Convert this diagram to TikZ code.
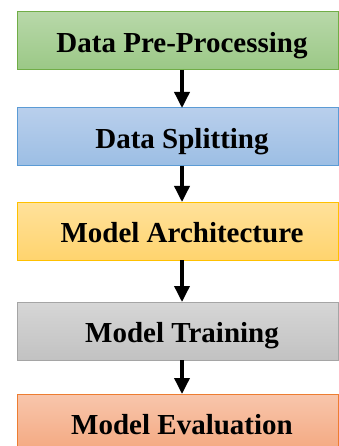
\documentclass[tikz,border=0pt]{standalone}
\usepackage{fontspec}
\setmainfont{Liberation Serif}
\usepackage{tikz}
\usetikzlibrary{arrows.meta,positioning}
\tikzset{
	stage/.style={
		draw,line width=1pt,
		minimum width=321pt,minimum height=58pt,
		inner sep=0pt,outer sep=0pt,
		text height=26pt,text depth=3pt,
		font=\fontsize{29}{34}\selectfont\bfseries,
		execute at begin node={\hspace*{9pt}}},
	stage green/.style={stage,draw={rgb,255:red,112;green,173;blue,71},
		top color={rgb,255:red,184;green,216;blue,169},bottom color={rgb,255:red,155;green,200;blue,134}},
	stage blue/.style={stage,draw={rgb,255:red,91;green,155;blue,213},
		top color={rgb,255:red,185;green,207;blue,236},bottom color={rgb,255:red,156;green,190;blue,228}},
	stage yellow/.style={stage,draw={rgb,255:red,255;green,192;blue,0},
		top color={rgb,255:red,255;green,225;blue,155},bottom color={rgb,255:red,255;green,212;blue,110}},
	stage gray/.style={stage,draw={rgb,255:red,165;green,165;blue,165},
		top color={rgb,255:red,214;green,214;blue,214},bottom color={rgb,255:red,194;green,194;blue,194}},
	stage orange/.style={stage,draw={rgb,255:red,237;green,125;blue,49},
		top color={rgb,255:red,248;green,198;blue,172},bottom color={rgb,255:red,244;green,168;blue,128}},
	flow/.style={line width=3.5pt,-{Triangle[length=16pt,width=15pt]}}
}
\begin{document}
\begin{tikzpicture}
	\useasboundingbox (0,0) rectangle (339pt,-446pt);
	\clip (0,0) rectangle (339pt,-446pt);
	\node[stage green] (prep) at (177.5pt,-41pt) {Data Pre-Processing};
	\node[stage blue, below=38pt of prep] (split) {Data Splitting};
	\node[stage yellow, below=36pt of split] (arch) {Model Architecture};
	\node[stage gray, below=42pt of arch] (train) {Model Training};
	\node[stage orange, below=34pt of train] (eval) {Model Evaluation};
	% arrows between the stages
	\foreach \a/\b in {prep/split,split/arch,arch/train,train/eval}
		\draw[flow] ([xshift=4.5pt]\a.south) -- ([xshift=4.5pt]\b.north);
\end{tikzpicture}
\end{document}
